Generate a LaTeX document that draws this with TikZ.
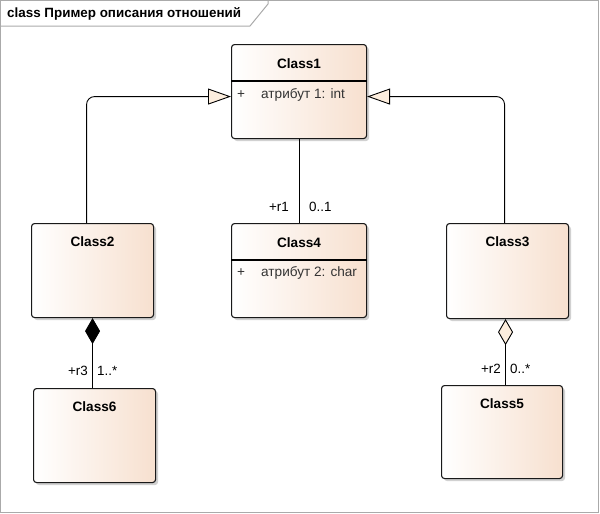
\documentclass[tikz,border=0pt]{standalone}
\usepackage{fontspec}
\setmainfont{Liberation Sans}
\usetikzlibrary{arrows.meta,shadows}
\definecolor{framegray}{RGB}{170,170,170}
\definecolor{peach}{RGB}{247,224,207}
\definecolor{cream}{RGB}{253,238,222}
\tikzset{
  classbox/.style={draw=black!90, line width=1.1pt, rounded corners=3pt,
    left color=white, right color=peach, anchor=north west,
    drop shadow={shadow xshift=2.5pt, shadow yshift=-2.5pt, fill=black!18, opacity=1}},
  ctitle/.style={font=\bfseries\fontsize{13.6}{15}\selectfont, anchor=center, inner sep=0pt},
  attr/.style={font=\fontsize{13.6}{15}\selectfont, anchor=west, inner sep=0pt, text=black!80},
  role/.style={font=\fontsize{13.4}{15}\selectfont, inner sep=0pt},
  gen/.style={line width=0.9pt, rounded corners=8pt,
    -{Triangle[length=23pt, width=16pt, fill=cream]}},
  link/.style={line width=0.9pt}
}
\begin{document}
\begin{tikzpicture}[x=1pt,y=-1pt]
\useasboundingbox (0,0) rectangle (600,514);
% frame
\draw[framegray, line width=1pt] (0.5,0.5) rectangle (598.5,512.5);
\draw[framegray, line width=1pt] (0.5,26) -- (250,26) -- (268,4) -- (268,0.5);
\node[anchor=west, inner sep=0pt, font=\bfseries\fontsize{13.4}{15}\selectfont] (title) at (7,14) {class Пример описания отношений};

% classes
\node[classbox, minimum width=135pt, minimum height=94pt] (c1) at (231,44) {};
\node[classbox, minimum width=122pt, minimum height=94pt] (c2) at (31,223) {};
\node[classbox, minimum width=122pt, minimum height=95pt] (c3) at (446,223) {};
\node[classbox, minimum width=135pt, minimum height=94pt] (c4) at (231,223) {};
\node[classbox, minimum width=121pt, minimum height=93pt] (c5) at (441,385) {};
\node[classbox, minimum width=122pt, minimum height=94pt] (c6) at (33,388) {};

\node[ctitle] (c1t) at ([yshift=-20pt]c1.north) {Class1};
\node[ctitle] (c2t) at ([yshift=-19pt]c2.north) {Class2};
\node[ctitle] (c3t) at ([yshift=-19pt]c3.north) {Class3};
\node[ctitle] (c4t) at ([yshift=-20pt]c4.north) {Class4};
\node[ctitle] (c5t) at ([yshift=-19pt]c5.north) {Class5};
\node[ctitle] (c6t) at ([yshift=-19pt]c6.north) {Class6};

% attribute compartments
\draw[line width=1.1pt] ([yshift=-37pt]c1.north west) -- ([yshift=-37pt]c1.north east);
\draw[line width=1.1pt] ([yshift=-37pt]c4.north west) -- ([yshift=-37pt]c4.north east);
\node[attr] (c1p) at (237,95) {+};
\node[attr] (c1a) at (261,95) {атрибут 1: int};
\node[attr] (c4p) at (237,273) {+};
\node[attr] (c4a) at (261,273) {атрибут 2: char};

% relations
\coordinate (g2) at ([yshift=-5pt]c1.west);
\coordinate (g3) at ([yshift=-5pt]c1.east);
\coordinate (a5) at ([xshift=-2pt]c3.south);
\draw[gen] ([xshift=-6pt]c2.north) |- (g2);
\draw[gen] ([xshift=-3pt]c3.north) |- (g3);
\draw[link] (c4.north -| c1.south) -- (c1.south);
\draw[link, -{Diamond[length=26pt, width=15pt, fill=black]}] (c6.north -| c2.south) -- (c2.south);
\draw[link, -{Diamond[length=26pt, width=15pt, fill=cream]}] (c5.north -| a5) -- (a5);

% roles
\node[role, anchor=east] (r1) at (289,207) {+r1};
\node[role, anchor=west] (m1) at (309,207) {0..1};
\node[role, anchor=east] (r3) at (88,371) {+r3};
\node[role, anchor=west] (m3) at (97,371) {1..*};
\node[role, anchor=east] (r2) at (501,369) {+r2};
\node[role, anchor=west] (m2) at (510,369) {0..*};
\end{tikzpicture}
\end{document}
